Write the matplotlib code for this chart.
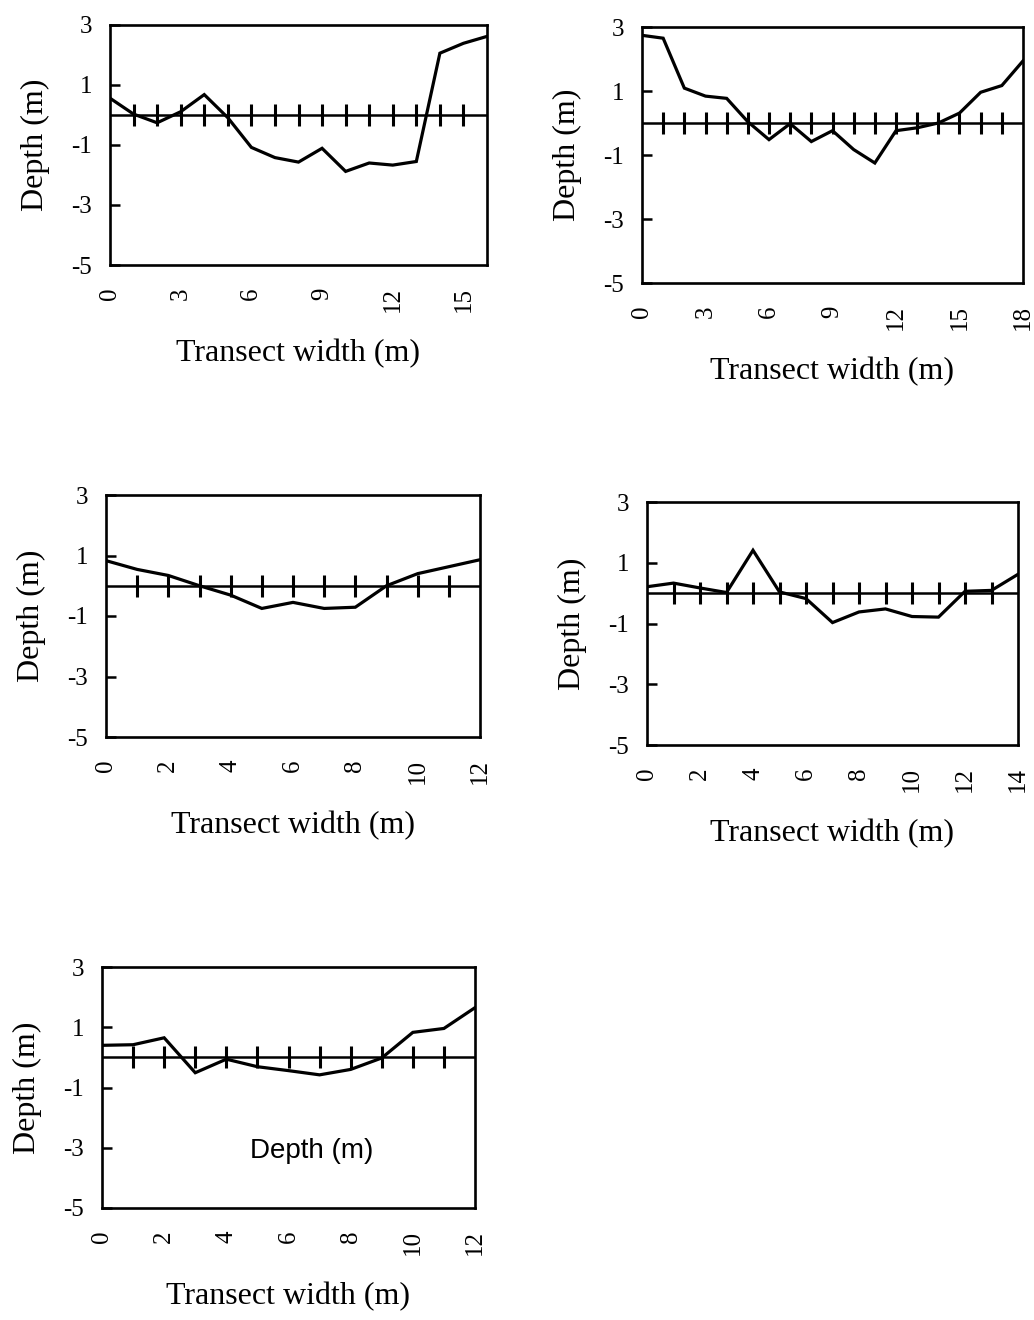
import matplotlib
matplotlib.use('Agg')
import matplotlib.pyplot as plt
import numpy as np

W, H = 1034, 1320

# bed depth along each transect (m), one value per metre
stations_a = list(range(0, 17))
depth_a = [0.56, 0.03, -0.26, 0.11, 0.68, -0.09, -1.08, -1.42, -1.57, -1.11,
           -1.88, -1.60, -1.67, -1.55, 2.06, 2.39, 2.62]

stations_b = list(range(0, 19))
depth_b = [2.74, 2.65, 1.09, 0.84, 0.77, 0.04, -0.52, -0.02, -0.58, -0.24,
           -0.83, -1.25, -0.24, -0.15, 0.00, 0.31, 0.96, 1.17, 1.94]

stations_c = list(range(0, 13))
depth_c = [0.83, 0.54, 0.34, 0.00, -0.31, -0.75, -0.55, -0.75, -0.71, 0.00,
           0.40, 0.63, 0.86]

stations_d = list(range(0, 15))
depth_d = [0.21, 0.33, 0.17, 0.02, 1.41, 0.04, -0.18, -0.97, -0.62, -0.52,
           -0.77, -0.79, 0.06, 0.09, 0.62]

stations_e = list(range(0, 13))
depth_e = [0.40, 0.42, 0.65, -0.51, -0.06, -0.31, -0.44, -0.58, -0.40, -0.02,
           0.83, 0.96, 1.65]

xticks_a = [0, 3, 6, 9, 12, 15]
xticks_b = [0, 3, 6, 9, 12, 15, 18]
xticks_c = [0, 2, 4, 6, 8, 10, 12]
xticks_d = [0, 2, 4, 6, 8, 10, 12, 14]
xticks_e = [0, 2, 4, 6, 8, 10, 12]
yticks = [-5, -3, -1, 1, 3]

SERIF = ['Liberation Serif', 'DejaVu Serif']
plt.rcParams['font.family'] = SERIF


def px_axes(fig, left, top, right, bottom):
    ax = fig.add_axes([left / W, 1 - bottom / H, (right - left) / W, (bottom - top) / H])
    return ax, right - left


def draw_transect(ax, width_px, stations, depth, xticks):
    xmax = stations[-1]
    surface = np.zeros(len(stations))
    ax.plot(stations, surface, color='black', lw=1.8, marker='|', ms=16, mew=2.2,
            markevery=slice(1, -1), solid_capstyle='butt')
    ax.plot(stations, depth, color='black', lw=2.3, solid_joinstyle='miter')
    ax.set_xlim(0, xmax)
    ax.set_ylim(-5, 3)
    ax.set_yticks(yticks)
    ax.set_yticklabels([str(t) for t in yticks])
    ax.set_xticks(xticks)
    ax.set_xticklabels([str(t) for t in xticks], rotation=90)
    ax.tick_params(axis='y', direction='in', length=7, width=1.8, labelsize=18, pad=13)
    ax.tick_params(axis='x', length=0, labelsize=18, pad=16)
    ax.set_xlabel('Transect width (m)', fontsize=23, labelpad=19)
    ax.set_ylabel('Depth (m)', fontsize=23)
    ax.yaxis.set_label_coords(-60 / width_px, 0.5)
    for spine in ax.spines.values():
        spine.set_linewidth(1.9)


fig = plt.figure(figsize=(W / 100, H / 100), dpi=100)

ax1, w1 = px_axes(fig, 110, 25, 487, 265)
draw_transect(ax1, w1, stations_a, depth_a, xticks_a)

ax2, w2 = px_axes(fig, 642, 27, 1023, 283)
draw_transect(ax2, w2, stations_b, depth_b, xticks_b)

ax3, w3 = px_axes(fig, 106, 495, 480, 737)
draw_transect(ax3, w3, stations_c, depth_c, xticks_c)

ax4, w4 = px_axes(fig, 647, 502, 1018, 745)
draw_transect(ax4, w4, stations_d, depth_d, xticks_d)

ax5, w5 = px_axes(fig, 102, 967, 475, 1208)
draw_transect(ax5, w5, stations_e, depth_e, xticks_e)
ax5.text(6.75, -3.1, 'Depth (m)', ha='center', va='center', fontsize=20,
         family=['Liberation Sans', 'DejaVu Sans'])

fig.savefig('out.png', dpi=100)
